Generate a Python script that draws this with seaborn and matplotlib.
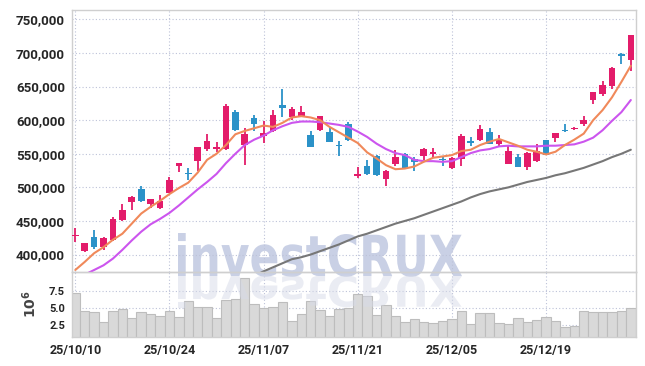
import matplotlib
matplotlib.use("Agg")
import numpy as np
import pandas as pd
import matplotlib.pyplot as plt
import seaborn as sns
from matplotlib.textpath import TextPath
from matplotlib.patches import PathPatch
from matplotlib.font_manager import FontProperties
from matplotlib.transforms import Affine2D, IdentityTransform
from matplotlib.ticker import FuncFormatter

###--- Daily candles (KRW)
opens = [427000, 405500, 426000, 411000, 421600, 451000, 477500, 497600, 474500, 469600,
         492200, 531900, 521000, 538800, 557400, 557400, 557000, 612300, 563300, 602500,
         577000, 584300, 622000, 605000, 606400, 578400, 585800, 582900, 563700, 594100,
         517200, 531400, 546100, 512800, 534300, 550000, 541700, 546600, 549500, 541700,
         528500, 542200, 569600, 570600, 582900, 564200, 535300, 545000, 529800, 538600,
         570600, 574000, 585300, 586800, 593700, 630000, 638400, 650700, 698400, 689500]
highs = [440000, 417000, 437000, 426500, 456000, 475000, 487000, 502000, 483400, 488300,
         514700, 536800, 529000, 560000, 579400, 568200, 624500, 614700, 587800, 607400,
         598600, 615700, 646600, 619600, 621000, 583300, 606900, 590200, 569600, 596600,
         530400, 541200, 547600, 526500, 554900, 551500, 545100, 559300, 558800, 545100,
         545100, 579400, 575500, 592700, 588200, 578400, 561300, 549900, 551900, 564200,
         570600, 581400, 593700, 590200, 605500, 641800, 659000, 678700, 699400, 726900]
lows = [418000, 404000, 408000, 406500, 420000, 450500, 465700, 477500, 468700, 467700,
        492000, 523000, 511000, 525000, 553500, 552000, 556000, 583400, 533900, 584300,
        565700, 583000, 604000, 601000, 605400, 559800, 583300, 568200, 546100, 568600,
        513300, 518200, 517200, 502000, 531900, 528000, 524500, 541200, 544100, 531900,
        528000, 531900, 562300, 569600, 564200, 561300, 534300, 529800, 525300, 537600,
        547500, 567100, 581900, 585300, 591200, 624600, 635500, 646800, 683600, 673800]
closes = [429000, 416700, 411000, 424600, 453500, 466700, 485800, 479000, 482900, 480400,
          510800, 536300, 520000, 559400, 569600, 560300, 621600, 585300, 579400, 593700,
          581400, 607400, 618600, 617200, 612300, 559800, 606400, 568200, 561300, 570600,
          520600, 520600, 518200, 524000, 545100, 528000, 537800, 557400, 552500, 540200,
          544100, 577000, 565700, 587300, 564200, 570600, 553500, 529800, 550900, 553400,
          547500, 580400, 584300, 588800, 600100, 641400, 651700, 677700, 694900, 726400]

###--- Moving averages as drawn (short / mid / long)
ma_short = [377000, 389000, 402000, 411000, 422000, 431000, 446000, 461000, 471000, 480000,
            490000, 499000, 507000, 522000, 541000, 550000, 563000, 579000, 584000, 588000,
            592000, 590000, 596000, 604000, 606000, 604000, 600000, 590000, 582000, 574000,
            566000, 552000, 543000, 533000, 527000, 528000, 531000, 538000, 544000, 546000,
            548000, 554000, 556000, 563000, 568000, 572000, 567000, 562000, 556000, 553000,
            549000, 553000, 563000, 571000, 580000, 600000, 615000, 634000, 657000, 681000]
ma_mid = [365000, 370000, 377000, 384000, 394000, 407000, 421000, 434000, 445000, 453000,
          462000, 473000, 485000, 497000, 508000, 520000, 536000, 550000, 563000, 571000,
          577000, 585000, 591000, 596000, 598000, 598000, 597000, 595000, 593000, 590000,
          583000, 575000, 565000, 557000, 551000, 548000, 541000, 539000, 539000, 538000,
          539000, 545000, 551000, 555000, 557000, 561000, 562000, 561000, 561000, 561000,
          562000, 562000, 563000, 564000, 568000, 574000, 585000, 599000, 612000, 630000]
ma_long = [np.nan] * 19 + [
    368000, 375000, 381000, 387000, 393000, 396000, 400000, 405000, 410000, 415000,
    421000, 427000, 431000, 436000, 441000, 446000, 450000, 454000, 459000, 464000,
    469000, 474000, 479000, 485000, 490000, 494000, 497000, 500000, 504000, 508000,
    511000, 514000, 518000, 521000, 525000, 529000, 534000, 539000, 545000, 550000, 556000]

###--- Volume in millions of shares
volume = [7.16, 4.6, 4.4, 2.98, 4.6, 4.86, 3.56, 4.42, 4.18, 3.9,
          4.6, 3.7, 6.06, 5.14, 5.14, 3.56, 6.15, 6.3, 9.3, 5.58,
          5.05, 5.14, 5.87, 3.1, 4.13, 6.0, 4.76, 3.9, 4.86, 5.05,
          7.07, 6.78, 4.04, 5.48, 3.9, 3.03, 3.46, 3.03, 2.88, 3.17,
          3.46, 4.6, 2.74, 4.33, 4.33, 2.88, 2.74, 3.6, 3.03, 3.32,
          3.75, 3.17, 2.3, 2.45, 4.6, 4.47, 4.47, 4.47, 4.6, 5.05]

date_ticks = [0, 10, 20, 30, 40, 50]
date_labels = ["25/10/10", "25/10/24", "25/11/07", "25/11/21", "25/12/05", "25/12/19"]
price_ticks = [400000, 450000, 500000, 550000, 600000, 650000, 700000, 750000]
volume_ticks = [2.5, 5.0, 7.5]

UP, DOWN = "#E31C6A", "#2B92C8"
GRID = "#BDC2D8"
FRAME = "#CFCFCF"
TXT = "#262626"

df = pd.DataFrame({"o": opens, "h": highs, "l": lows, "c": closes,
                   "ma5": ma_short, "ma20": ma_mid, "ma60": ma_long, "vol": volume})
df["idx"] = np.arange(len(df))

sns.set_style("white")
plt.rcParams["font.family"] = ["Roboto", "DejaVu Sans"]
plt.rcParams["font.weight"] = "bold"

fig = plt.figure(figsize=(6.45, 3.66), dpi=100)
ax = fig.add_axes([72/645, 94/366, 564/645, 262/366])
vax = fig.add_axes([72/645, 29/366, 564/645, 65/366], sharex=ax)
vax.set_facecolor("none")

###--- Watermark with its reflection
fp = FontProperties(family="DejaVu Sans", weight="bold")
tp = TextPath((0, 0), "investCRUX", size=1, prop=fp)
ext = tp.get_extents()
sx = 284 / (ext.x1 - ext.x0)
base_y = 366 - 276
wm = PathPatch(tp, transform=Affine2D().translate(-ext.x0, 0).scale(sx, 43 / ext.y1)
               .translate(178, base_y) + IdentityTransform(),
               facecolor="#C9D0E5", edgecolor="none", zorder=0.5, clip_on=False)
ax.add_artist(wm)
wm2 = PathPatch(tp, transform=Affine2D().translate(-ext.x0, 0).scale(sx, -32 / ext.y1)
                .translate(178, base_y) + IdentityTransform(),
                facecolor="#D6DAE8", edgecolor="none", alpha=0.5, zorder=3, clip_on=False)
vax.add_artist(wm2)

###--- Candles
up = df["c"] >= df["o"]
colors = np.where(up, UP, DOWN)
body_lo = np.minimum(df["o"], df["c"])
body_h = np.maximum(np.abs(df["c"] - df["o"]), 1800)
ax.vlines(df["idx"], df["l"], df["h"], colors=colors, lw=1.3, zorder=2)
ax.bar(df["idx"], body_h, bottom=body_lo, width=0.7, color=colors, lw=0, zorder=3)

###--- Moving averages
sns.lineplot(data=df, x="idx", y="ma60", ax=ax, color="#777777", lw=1.5, zorder=4)
sns.lineplot(data=df, x="idx", y="ma20", ax=ax, color="#CC55EE", lw=1.5, zorder=4)
sns.lineplot(data=df, x="idx", y="ma5", ax=ax, color="#F0895A", lw=1.5, zorder=4)

###--- Volume bars
sns.barplot(data=df, x="idx", y="vol", ax=vax, native_scale=True, width=1.0,
            color="#D9D9D9", saturation=1, edgecolor="#BDBDBD", linewidth=0.8,
            errorbar=None, zorder=2)

for a in (ax, vax):
    a.grid(True, color=GRID, ls=(0, (1, 2)), lw=0.8)
    a.set_axisbelow(True)
    a.tick_params(length=0, pad=5, colors=TXT)
    for s in a.spines.values():
        s.set_color(FRAME)
        s.set_linewidth(1)
    a.set_xlabel("")

ax.set_ylim(374000, 764000)
ax.set_yticks(price_ticks)
ax.yaxis.set_major_formatter(FuncFormatter(lambda v, p: f"{int(v):,}"))
ax.tick_params(axis="y", labelsize=9.6)
ax.tick_params(axis="x", labelbottom=False)
ax.set_ylabel("")

vax.set_ylim(0.82, 10.2)
vax.set_yticks(volume_ticks)
vax.set_yticklabels([f"{v:.1f}" for v in volume_ticks])
vax.tick_params(axis="y", labelsize=8)
vax.set_xticks(date_ticks)
vax.set_xticklabels(date_labels, fontsize=9)
vax.set_ylabel(r"$10^6$", fontsize=10, color="#444444", fontweight="normal", labelpad=7)
vax.set_xlim(-0.35, 59.55)

fig.savefig("out.png", dpi=100)
